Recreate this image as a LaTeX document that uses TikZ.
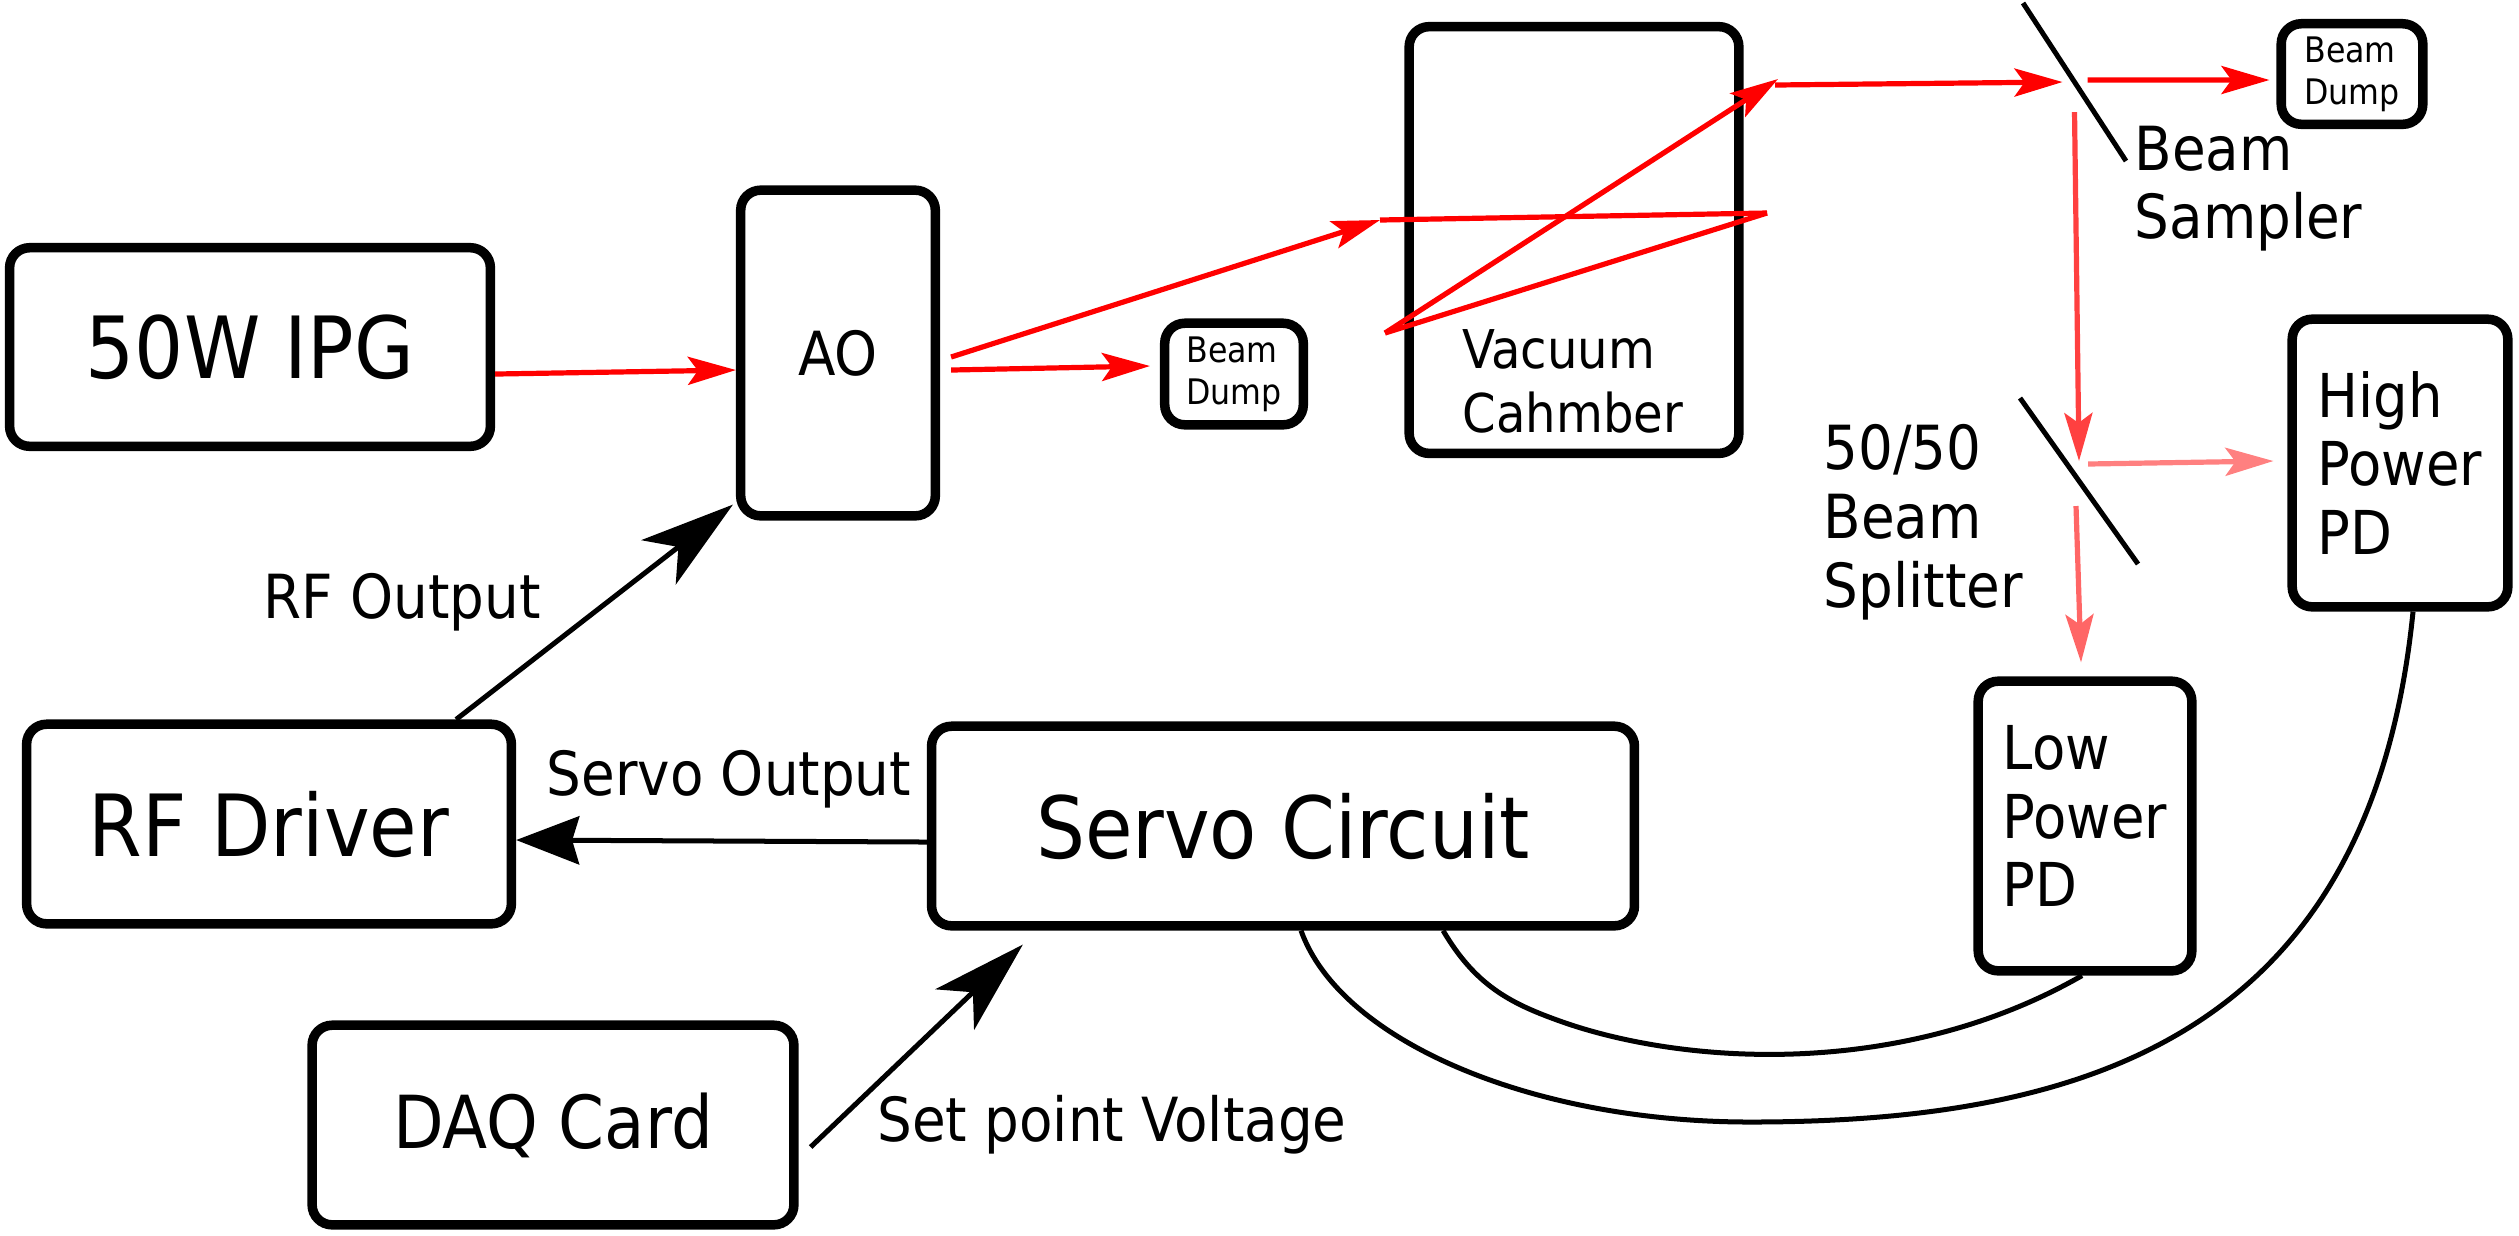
\documentclass[tikz,border=0pt]{standalone}
\usepackage{fontspec}
\setmainfont{DejaVu Sans Condensed}
\usetikzlibrary{arrows.meta}

\begin{document}
\begin{tikzpicture}[x=0.01cm, y=-0.01cm,
        box/.style={draw, line width=0.095cm, rounded corners=0.2cm, inner sep=0pt, align=left},
        bigtxt/.style={font=\fontsize{24.4}{28}\selectfont},
        lbl/.style={inner sep=0pt, align=left, font=\fontsize{17.3}{19.6}\selectfont},
        beam/.style={line width=0.052cm, red},
        wire/.style={line width=0.05cm},
        mirrorline/.style={line width=0.05cm},
        redtip/.style={-{Stealth[length=0.48cm, width=0.28cm, inset=0.1cm]}},
        bigtip/.style={-{Stealth[length=0.94cm, width=0.56cm, inset=0.25cm]}},
        midtip/.style={-{Stealth[length=0.63cm, width=0.48cm, inset=0.07cm]}}]
        \useasboundingbox (0,0) rectangle (2519,1235);

        % Cajas
        \node[box, bigtxt, minimum width=4.805cm, minimum height=1.985cm] (ipg) at (250,347) {50W IPG};
        \node[box, lbl, draw, line width=0.095cm, minimum width=1.945cm, minimum height=3.255cm] (ao) at (838,353) {AO};
        \node[box, font=\fontsize{10}{11.9}\selectfont, minimum width=1.385cm, minimum height=1.015cm] (dmp1) at (1234,374) {Beam\\Dump};
        \node[box, minimum width=3.295cm, minimum height=4.265cm] (vac) at (1574,240) {};
        \node[lbl, font=\fontsize{15.2}{18.2}\selectfont, anchor=north west] (vaclbl) at (1462,329) {Vacuum\\Cahmber};
        \node[box, font=\fontsize{10}{11.9}\selectfont, minimum width=1.415cm, minimum height=1.005cm] (dmp2) at (2352,74) {Beam\\Dump};
        \node[box, font=\fontsize{17.2}{19.6}\selectfont, minimum width=2.155cm, minimum height=2.875cm] (hpd) at (2400,463) {High\\Power\\PD};
        \node[box, font=\fontsize{17.2}{19.6}\selectfont, text depth=0.2cm, minimum width=2.135cm, minimum height=2.895cm] (lpd) at (2085,826) {Low\\Power\\PD};
        \node[box, bigtxt, minimum width=4.845cm, minimum height=1.995cm] (rfd) at (269,824) {RF Driver};
        \node[box, bigtxt, minimum width=7.025cm, minimum height=1.995cm] (servo) at (1283,826) {Servo Circuit};
        \node[box, font=\fontsize{20.8}{24}\selectfont, minimum width=4.815cm, minimum height=1.995cm] (daq) at (553,1125) {DAQ Card};

        % Espejos
        \coordinate (smp) at (2074.5,82);
        \coordinate (spl) at (2079,481);
        \draw[mirrorline] (smp) ++(-51.5,-79) -- ++(103,158);
        \draw[mirrorline] (spl) ++(-59,-83) -- ++(118,166);
        \node[lbl, anchor=north west] (smplbl) at (2134,125) {Beam\\Sampler};
        \node[lbl, anchor=north west] (spllbl) at (1823,424) {50/50\\Beam\\Splitter};

        % Haz laser
        \coordinate (c1) at (1380,220);
        \coordinate (c2) at (1767,213);
        \coordinate (c3) at (1385,333);
        \coordinate (c4) at (1778,79);
        \coordinate (c5) at (1775,85);
        \draw[beam, redtip] ([yshift=-0.27cm]ipg.east) -- ([yshift=-0.17cm]ao.west);
        \draw[beam, redtip] ([shift={(0.11cm,-0.17cm)}]ao.east) -- ([shift={(-0.1cm,0.08cm)}]dmp1.west);
        \draw[beam, redtip] ([shift={(0.11cm,-0.04cm)}]ao.east) -- (c1);
        \draw[beam] (c1) -- (c2);
        \draw[beam] (c2) -- (c3);
        \draw[beam, redtip] (c3) -- (c4);
        \draw[beam, redtip] (c5) -- ([xshift=-0.12cm]smp);
        \draw[beam, redtip] ([shift={(0.13cm,0.02cm)}]smp) -- ([shift={(-0.07cm,-0.06cm)}]dmp2.west);
        \draw[beam, red!75, redtip] ([yshift=-0.3cm]smp) -- ([yshift=0.2cm]spl);
        \draw[beam, red!50, redtip] ([shift={(0.09cm,0.17cm)}]spl) -- ([shift={(-0.14cm,0.02cm)}]hpd.west);
        \draw[beam, red!60, redtip] ([shift={(-0.03cm,-0.25cm)}]spl) -- ([shift={(-0.04cm,0.14cm)}]lpd.north);

        % Senales electricas
        \draw[wire, bigtip] ([xshift=1.87cm]rfd.north) -- ([shift={(-0.03cm,0.16cm)}]ao.south west);
        \node[lbl] (rfout) at (402,602) {RF Output};
        \draw[wire, midtip] ([yshift=-0.16cm]servo.west) -- ([yshift=-0.16cm]rfd.east);
        \node[lbl] (servoout) at (729,779) {Servo Output};
        \draw[wire, bigtip] ([shift={(0.12cm,-0.22cm)}]daq.east) -- ([shift={(0.96cm,-0.14cm)}]servo.south west);
        \node[lbl] (setpt) at (1112,1125) {Set point Voltage};

        % Cables de los fotodiodos
        \draw[wire] ([xshift=1.6cm]servo.south) .. controls (1475,985) and (1510,1003) .. (1557,1020)
            .. controls (1680,1065) and (1900,1080) .. ([xshift=-0.03cm]lpd.south);
        \draw[wire] ([xshift=0.18cm]servo.south) .. controls (1340,1040) and (1530,1122) .. (1750,1122)
            .. controls (2080,1122) and (2370,1040) .. ([xshift=0.13cm]hpd.south);
    \end{tikzpicture}
\end{document}
